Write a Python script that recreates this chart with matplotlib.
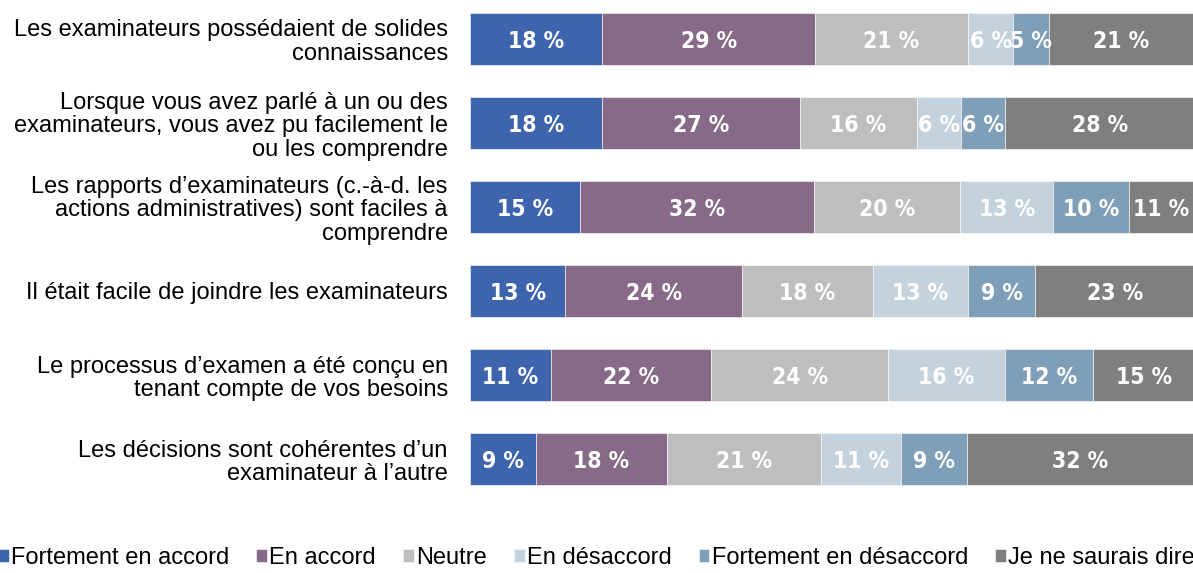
import matplotlib.pyplot as plt
import numpy as np

plt.rcParams['font.family'] = ['Liberation Sans', 'DejaVu Sans']

questions = [
    "Les examinateurs possédaient de solides\nconnaissances",
    "Lorsque vous avez parlé à un ou des\nexaminateurs, vous avez pu facilement le\nou les comprendre",
    "Les rapports d’examinateurs (c.-à-d. les\nactions administratives) sont faciles à\ncomprendre",
    "Il était facile de joindre les examinateurs",
    "Le processus d’examen a été conçu en\ntenant compte de vos besoins",
    "Les décisions sont cohérentes d’un\nexaminateur à l’autre",
]
series = ["Fortement en accord", "En accord", "Neutre", "En désaccord",
          "Fortement en désaccord", "Je ne saurais dire"]
colors = ["#3F64AE", "#866A88", "#BEBEBE", "#C4D2DE", "#7F9FB8", "#7F7F7F"]

# bar widths as measured on the picture (one list per answer)
strong_agree = [18.3, 18.3, 15.2, 13.2, 11.2, 9.1]
agree = [29.4, 27.3, 32.4, 24.4, 22.2, 18.1]
neutral = [21.2, 16.2, 20.2, 18.1, 24.4, 21.3]
disagree = [6.2, 6.1, 12.9, 13.2, 16.2, 11.1]
strong_disagree = [5.0, 6.1, 10.4, 9.3, 12.2, 9.1]
dont_know = [19.9, 26.2, 9.0, 22.0, 14.0, 31.3]

# printed labels
lab_strong_agree = [18, 18, 15, 13, 11, 9]
lab_agree = [29, 27, 32, 24, 22, 18]
lab_neutral = [21, 16, 20, 18, 24, 21]
lab_disagree = [6, 6, 13, 13, 16, 11]
lab_strong_disagree = [5, 6, 10, 9, 12, 9]
lab_dont_know = [21, 28, 11, 23, 15, 32]

widths = [strong_agree, agree, neutral, disagree, strong_disagree, dont_know]
labels = [lab_strong_agree, lab_agree, lab_neutral, lab_disagree,
          lab_strong_disagree, lab_dont_know]

fig = plt.figure(figsize=(11.93, 5.73), dpi=100)
ax = fig.add_axes([470 / 1193, 73 / 573, 723 / 1193, 500 / 573])

y = np.arange(len(questions))
left = np.zeros(len(questions))
for w, lab, name, c in zip(widths, labels, series, colors):
    w = np.array(w)
    ax.barh(y, w, left=left, height=0.62, color=c, label=name,
            edgecolor='white', linewidth=0.4)
    for yi, li, wi, lv in zip(y, left, w, lab):
        ax.text(li + wi / 2, yi + 0.03, f"{lv} %", ha='center', va='center',
                color='white', fontsize=16.5, fontweight='bold',
                family='DejaVu Sans', fontstretch='condensed')
    left += w

ax.set_xlim(0, 100)
ax.set_ylim(5.488, -0.464)
ax.set_yticks(y)
ax.set_yticklabels(questions, fontsize=17, linespacing=1.1)
ax.tick_params(axis='y', length=0, pad=16)
ax.set_xticks([])
for s in ax.spines.values():
    s.set_visible(False)

fig.legend(loc='lower center', bbox_to_anchor=(0.5, -0.017), ncol=6,
           fontsize=17, frameon=False, handlelength=0.45, handleheight=0.45,
           handletextpad=0.1, columnspacing=1.15, borderaxespad=0.2)

fig.savefig('out.png', dpi=100)
